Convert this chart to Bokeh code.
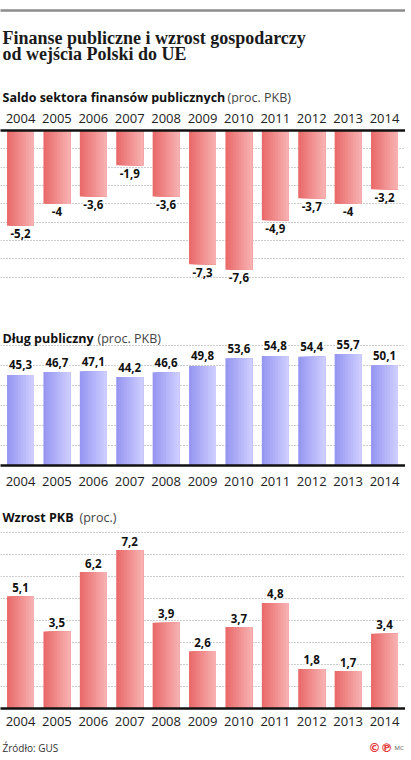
from bokeh.plotting import figure
from bokeh.models import Range1d, FixedTicker, LabelSet, ColumnDataSource, Grid
from bokeh.layouts import column
from bokeh.transform import dodge
from bokeh.core.properties import value
from bokeh.embed import file_html
from bokeh.resources import INLINE

# ---------------- data ----------------
years = ["2004", "2005", "2006", "2007", "2008", "2009", "2010", "2011", "2012", "2013", "2014"]
saldo = [-5.2, -4.0, -3.6, -1.9, -3.6, -7.3, -7.6, -4.9, -3.7, -4.0, -3.2]
dlug = [45.3, 46.7, 47.1, 44.2, 46.6, 49.8, 53.6, 54.8, 54.4, 55.7, 50.1]
pkb = [5.1, 3.5, 6.2, 7.2, 3.9, 2.6, 3.7, 4.8, 1.8, 1.7, 3.4]
saldo_grid = [-1, -2, -3, -4, -5, -6, -7, -8]
dlug_grid = [10, 20, 30, 40, 50, 60]
pkb_grid = [1, 2, 3, 4, 5, 6, 7, 8]

title_lines = ["Finanse publiczne i wzrost gospodarczy", "od wejścia Polski do UE"]
sub1 = ["Saldo sektora finansów publicznych", "(proc. PKB)"]
sub2 = ["Dług publiczny", "(proc. PKB)"]
sub3 = ["Wzrost PKB", "(proc.)"]
source_txt = "Źródło: GUS"

# ---------------- style ----------------
W = 405
X0 = -20 / 36.4
X1 = X0 + W / 36.4
BAR_W = 0.74
SANS = "Open Sans"
RED = ("#ea6b6b", "#f7b0b0")
BLUE = ("#9797f2", "#cdcdff")


def fmt(v):
    return f"{v:g}".replace(".", ",")


def lerp(c1, c2, t):
    a = [int(c1[i:i + 2], 16) for i in (1, 3, 5)]
    b = [int(c2[i:i + 2], 16) for i in (1, 3, 5)]
    return "#" + "".join(f"{round(x + (y - x) * t):02x}" for x, y in zip(a, b))


def text_fig(h):
    f = figure(width=W, height=h, x_range=Range1d(0, W), y_range=Range1d(0, h),
               output_backend="svg", toolbar_location=None, min_border=0, title=None,
               x_axis_location=None, y_axis_location=None)
    f.outline_line_color = None
    f.grid.visible = False
    return f


def subtitle(f, parts, y, second_x, **kw):
    f.text(x=[2], y=[y], text=[parts[0]], text_font=value(SANS), text_font_size="12.5px",
           text_font_style="bold", text_color="#111111", text_baseline="alphabetic", **kw)
    f.text(x=[second_x], y=[y], text=[parts[1]], text_font=value(SANS), text_font_size="12.5px",
           text_color="#444444", text_baseline="alphabetic", **kw)


def chart_fig(h, top, bottom, yr, loc, standoff, vals, grid, colors, off):
    frame_h = h - top - bottom
    f = figure(width=W, height=h, x_range=Range1d(X0, X1), y_range=Range1d(*yr),
               output_backend="svg", toolbar_location=None, title=None,
               min_border_left=0, min_border_right=0, min_border_top=top, min_border_bottom=bottom,
               x_axis_location=loc, y_axis_location=None)
    f.extra_x_ranges = {"px": Range1d(0, W)}
    f.extra_y_ranges = {"px": Range1d(0, frame_h)}
    f.outline_line_color = None
    f.grid.visible = False
    f.add_layout(Grid(dimension=1, ticker=FixedTicker(ticks=grid), grid_line_color="#9a9a9a",
                      grid_line_dash="1 2", grid_line_width=1))
    idx = list(range(len(years)))
    src = ColumnDataSource(dict(x=idx, v=vals, lbl=[fmt(v) for v in vals]))
    n = 10
    for k in range(n):
        fr = k / n
        f.vbar(x=dodge("x", BAR_W * fr / 2), top="v", bottom=0, width=BAR_W * (1 - fr),
               source=src, fill_color=lerp(colors[0], colors[1], k / (n - 1)), line_color=None)
    ax = f.xaxis[0]
    ax.ticker = FixedTicker(ticks=idx)
    ax.major_label_overrides = {i: y for i, y in zip(idx, years)}
    ax.axis_line_width = 2.5
    ax.axis_line_color = "#111111"
    ax.major_tick_line_color = None
    ax.minor_tick_line_color = None
    ax.major_label_standoff = standoff
    ax.major_label_text_font = SANS
    ax.major_label_text_font_size = "13px"
    ax.major_label_text_color = "#222222"
    f.add_layout(LabelSet(x="x", y="v", text="lbl", source=src, text_align="center",
                          text_baseline="middle", y_offset=off, text_font=value(SANS),
                          text_font_size="11.5px", text_font_style="bold", text_color="#111111",
                          background_fill_color="white"))
    return f


# header (page y 0..104); the grey top rule is the header's own axis line at page y 10
t1 = figure(width=W, height=104, x_range=Range1d(0, W), y_range=Range1d(0, 94),
            output_backend="svg", toolbar_location=None, title=None,
            min_border_left=0, min_border_right=0, min_border_bottom=0, min_border_top=10,
            x_axis_location="above", y_axis_location=None)
t1.outline_line_color = None
t1.grid.visible = False
rule = t1.xaxis[0]
rule.ticker = FixedTicker(ticks=[])
rule.axis_line_color = "#8c8c8c"
rule.axis_line_width = 2.5
rule.major_tick_line_color = None
rule.minor_tick_line_color = None
rule.major_label_standoff = 0
rule.major_label_text_font_size = "1px"
t1.text(x=[2, 2], y=[67, 51], text=title_lines, text_font=value("Liberation Serif"),
        text_font_size="18px", text_font_style="bold", text_color="#1a1a1a",
        text_baseline="alphabetic")
subtitle(t1, sub1, 7.5, 227)

# saldo chart (page y 104..292, frame 130..288)
c1 = chart_fig(188, 26, 4, (-158 / 18.33, 0), "above", 2, saldo, saldo_grid, RED, -8)

# debt chart (page y 292..490, frame 292..465)
c2 = chart_fig(198, 0, 25, (0, 173 / 2), "below", 5, dlug, dlug_grid, BLUE, 10)
subtitle(c2, sub2, 127, 97, x_range_name="px", y_range_name="px")

# GDP chart (page y 490..730, frame 490..708)
c3 = chart_fig(240, 0, 22, (0, 218 / 22), "below", 2, pkb, pkb_grid, RED, 9)
subtitle(c3, sub3, 191, 79, x_range_name="px", y_range_name="px")

# footer (page y 730..760)
t4 = text_fig(30)
t4.text(x=[2], y=[13], text=[source_txt], text_font=value(SANS), text_font_size="10px",
        text_color="#333333", text_baseline="middle")
t4.text(x=[368, 380], y=[13, 13], text=["©", "℗"], text_font=value("DejaVu Sans"),
        text_font_size="12px", text_font_style="bold", text_color="#e33b3b", text_baseline="middle")
t4.text(x=[394], y=[13], text=["MC"], text_font=value(SANS), text_font_size="6px",
        text_color="#555555", text_baseline="middle")

layout = column(t1, c1, c2, c3, t4, spacing=0)

open("out.html", "w").write(file_html(layout, INLINE))
